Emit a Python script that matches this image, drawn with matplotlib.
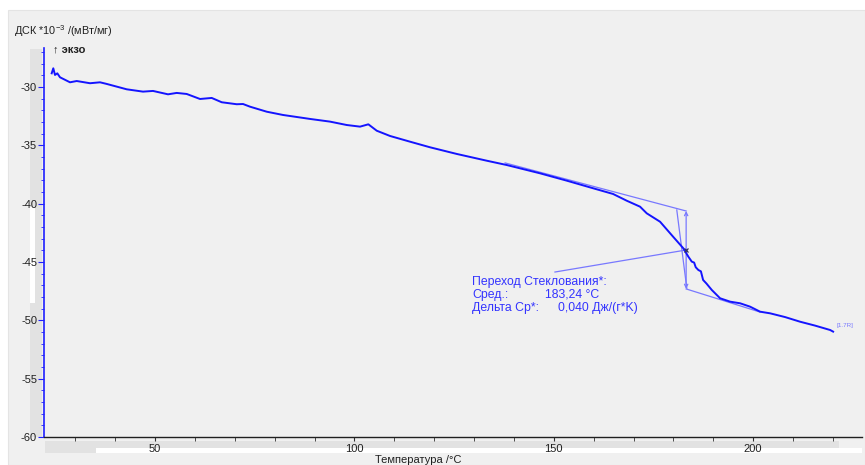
import matplotlib
matplotlib.use("Agg")
import matplotlib.pyplot as plt
from matplotlib.patches import Rectangle
import numpy as np

plt.rcParams['font.family'] = ['Liberation Sans', 'DejaVu Sans']
plt.rcParams['mathtext.fontset'] = 'custom'
plt.rcParams['mathtext.rm'] = 'Liberation Sans'

# DSC heating curve, temperature (°C) vs heat flow (10^-3 mW/mg)
temperature = [24.09, 24.49, 24.92, 25.50, 26.17, 28.68, 30.36, 33.70, 36.21, 37.89,
               42.90, 46.99, 49.50, 53.26, 55.44, 57.95, 61.29, 64.22, 66.73, 70.49,
               72.07, 73.83, 78.02, 82.10, 88.88, 93.89, 98.08, 101.42, 103.50, 105.61,
               108.94, 113.96, 118.97, 125.67, 133.20, 138.21, 146.56, 153.26, 159.86, 164.87,
               168.31, 171.64, 173.32, 176.66, 179.92, 182.50, 183.76, 184.61, 185.2, 185.6,
               186.27, 186.9, 187.45, 188.3, 189.63, 191.71, 194.22, 196.73, 199.24, 201.75,
               204.26, 208.0, 211.78, 215.5, 219.31, 220.06]
dsc = [-28.83, -28.40, -28.97, -28.83, -29.17, -29.60, -29.49, -29.68, -29.60, -29.74,
       -30.20, -30.40, -30.34, -30.63, -30.51, -30.60, -31.03, -30.94, -31.31, -31.48,
       -31.46, -31.69, -32.12, -32.40, -32.74, -32.97, -33.26, -33.40, -33.20, -33.75,
       -34.20, -34.69, -35.17, -35.74, -36.32, -36.69, -37.40, -38.03, -38.68, -39.17,
       -39.75, -40.26, -40.83, -41.55, -42.83, -43.83, -44.55, -44.97, -45.05, -45.45,
       -45.69, -45.80, -46.54, -46.85, -47.40, -48.11, -48.40, -48.54, -48.83, -49.26,
       -49.40, -49.72, -50.12, -50.45, -50.83, -50.97]

# Glass transition evaluation
tg_mid = 183.24
tg_mid_dsc = -43.97
upper_tangent_T = [137.8, 183.2]
upper_tangent_y = [-36.51, -40.63]
lower_tangent_T = [183.2, 201.7]
lower_tangent_y = [-47.31, -49.29]
steep_tangent_T = [180.85, 183.36]
steep_tangent_y = [-40.54, -47.25]
step_T = 183.2
step_top, step_bottom = -40.63, -47.31

x_major = [50, 100, 150, 200]
y_major = [-30, -35, -40, -45, -50, -55, -60]

W, H = 865, 465
fig = plt.figure(figsize=(W / 100, H / 100), dpi=100)
fig.patch.set_facecolor('white')


def fx(px):
    return px / W


def fy(py):
    return 1 - py / H


PANEL = '#f0f0f0'
BAR = '#e2e2e2'
fig.add_artist(Rectangle((fx(8), 0), 1 - fx(8), fy(10), transform=fig.transFigure,
                         facecolor=PANEL, edgecolor='#e4e4e4', lw=0.8, zorder=-10))
# scroll bars
fig.add_artist(Rectangle((fx(30), fy(437)), fx(42) - fx(30), fy(49) - fy(437),
                         transform=fig.transFigure, facecolor=BAR, edgecolor='none', zorder=-9))
fig.add_artist(Rectangle((fx(30), fy(303)), fx(35) - fx(30), fy(207) - fy(303),
                         transform=fig.transFigure, facecolor='white', edgecolor='none', zorder=-8))
fig.add_artist(Rectangle((fx(45), fy(453)), fx(839) - fx(45), fy(441) - fy(453),
                         transform=fig.transFigure, facecolor=BAR, edgecolor='none', zorder=-9))
fig.add_artist(Rectangle((fx(96), fy(453)), fx(862) - fx(96), fy(448) - fy(453),
                         transform=fig.transFigure, facecolor='white', edgecolor='none', zorder=-8))

ax = fig.add_axes([fx(44), fy(437), fx(862) - fx(44), fy(48) - fy(437)])
ax.patch.set_alpha(0)
ax.set_xlim(22.16, 227.3)
ax.set_ylim(-60, -26.66)

for s in ('top', 'right'):
    ax.spines[s].set_visible(False)
ax.spines['left'].set_color('#2020ff')
ax.spines['left'].set_linewidth(1.2)
ax.spines['bottom'].set_color('#202020')
ax.spines['bottom'].set_linewidth(1.0)

ax.set_xticks(x_major)
ax.set_xticks(np.arange(30, 230, 10), minor=True)
ax.set_yticks(y_major)
ax.set_yticks(np.arange(-60, -26, 1), minor=True)
ax.tick_params(axis='x', which='major', length=3, color='#303030', labelsize=8,
               labelcolor='#202020', pad=2)
ax.tick_params(axis='x', which='minor', length=3, color='#303030')
ax.tick_params(axis='y', which='major', length=4, color='#2020ff', labelsize=8,
               labelcolor='#202020', pad=1)
ax.tick_params(axis='y', which='minor', length=2, color='#2020ff')
ax.set_yticklabels([str(v) for v in y_major])

CURVE = '#1414ff'
LINE = '#7878ff'
TEXT = '#3434ff'

ax.plot(temperature, dsc, color=CURVE, lw=1.4, zorder=5)

ax.plot(upper_tangent_T, upper_tangent_y, color=LINE, lw=0.9, zorder=4)
ax.plot(lower_tangent_T, lower_tangent_y, color=LINE, lw=0.9, zorder=4)
ax.plot(steep_tangent_T, steep_tangent_y, color=LINE, lw=0.9, zorder=4)
ax.annotate('', xy=(step_T, step_top), xytext=(step_T, step_bottom),
            arrowprops=dict(arrowstyle='<->', color=LINE, lw=0.9,
                            mutation_scale=6, shrinkA=0, shrinkB=0), zorder=4)
ax.plot([tg_mid], [tg_mid_dsc], marker='x', color='#303060', ms=3.5, mew=0.9, zorder=6)

# leader from the evaluation label to the midpoint
ax.plot([150.3, tg_mid], [-45.86, tg_mid_dsc], color=LINE, lw=0.9, zorder=4)

ax.text(129.5, -46.70, 'Переход Стеклования*:', color=TEXT, fontsize=8.8, va='center')
ax.text(129.5, -47.82, 'Сред.:', color=TEXT, fontsize=8.8, va='center')
ax.text(147.8, -47.82, '183,24 °C', color=TEXT, fontsize=8.8, va='center')
ax.text(129.5, -48.93, 'Дельта Cp*:', color=TEXT, fontsize=8.8, va='center')
ax.text(151.1, -48.93, '0,040 Дж/(г*K)', color=TEXT, fontsize=8.8, va='center')

ax.text(220.8, -50.45, '[1.7R]', color=LINE, fontsize=4.5, va='center')

fig.text(fx(14), fy(31), 'ДСК *10$^{-3}$ /(мВт/мг)', fontsize=7.8, color='#202020',
         va='center', ha='left')
fig.text(fx(53), fy(49), '↑ экзо', fontsize=8, color='#202020', va='center', ha='left',
         weight='bold')
fig.text(fx(418), fy(460), 'Температура /°C', fontsize=8, color='#202020',
         va='center', ha='center')

fig.savefig('out.png', dpi=100, facecolor=fig.get_facecolor())
